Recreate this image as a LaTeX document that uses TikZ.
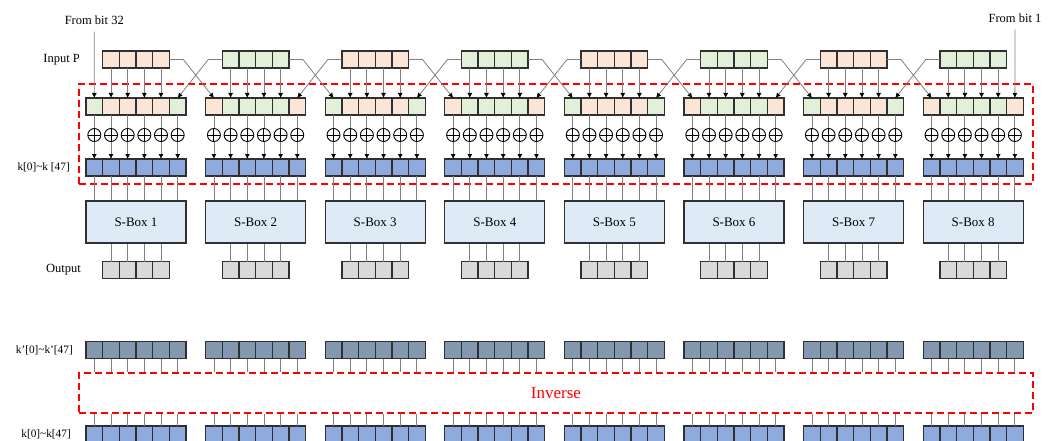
\documentclass[tikz,border=0pt]{standalone}
\usepackage{fontspec}
\setmainfont{Liberation Serif}
\usetikzlibrary{arrows.meta}
\definecolor{peach}{HTML}{FBE5D6}
\definecolor{mint}{HTML}{E2F0D9}
\definecolor{kblue}{HTML}{8FAADC}
\definecolor{kslate}{HTML}{8497B0}
\definecolor{ogray}{HTML}{D9D9D9}
\definecolor{sbfill}{HTML}{DEEBF7}
\definecolor{edgec}{HTML}{303030}
\definecolor{wirec}{HTML}{808080}
\begin{document}
\begin{tikzpicture}[x=1pt,y=-1pt,
  cell/.style={draw=edgec, line width=1.3pt, minimum width=16.667pt, minimum height=17pt, inner sep=0pt, outer sep=0pt},
  wire/.style={draw=wirec, line width=0.8pt},
  arr/.style={wire, -{Latex[length=5pt,width=5pt,color=black]}},
  xorc/.style={circle, draw=black, line width=0.9pt, minimum size=13pt, inner sep=0pt,
    path picture={\draw[black,line width=0.9pt] (path picture bounding box.north) -- (path picture bounding box.south)
      (path picture bounding box.west) -- (path picture bounding box.east);}},
  sbox/.style={draw=edgec, line width=1.3pt, fill=sbfill, minimum width=100pt, minimum height=42pt, inner sep=0pt,
    font=\fontsize{13}{15}\selectfont},
  lab/.style={anchor=east, inner sep=0pt, font=\fontsize{12.5}{14}\selectfont},
  klab/.style={anchor=east, inner sep=0pt, font=\fontsize{11.3}{13}\selectfont},
  redbox/.style={draw=red, line width=1.5pt, dash pattern=on 7pt off 4pt, inner sep=0pt}
]
\useasboundingbox (0,0) rectangle (1057,441);
\clip (0,0) rectangle (1057,441);

% dashed red frames
\node[redbox, minimum width=954pt, minimum height=100pt] (rnd) at (556,134) {};
\node[redbox, minimum width=954pt, minimum height=40pt, text=red, font=\fontsize{17}{19}\selectfont] (inv) at (556,393) {Inverse};

% labels
\node[lab] (lin) at (80,59.5) {Input P};
\node[klab] (lk) at (70,167.5) {k[0]\textasciitilde k [47]};
\node[lab] (lout) at (81,270) {Output};
\node[klab] (lkp) at (73,350) {k'[0]\textasciitilde k'[47]};
\node[klab] (lkb) at (71,434) {k[0]\textasciitilde k[47]};
\node[inner sep=0pt, font=\fontsize{12.5}{14}\selectfont] (fb32) at (94.3,20) {From bit 32};
\node[inner sep=0pt, font=\fontsize{12.5}{14}\selectfont] (fb1) at (1015,18) {From bit 1};

\foreach \i in {0,...,7}{
  \pgfmathsetmacro{\L}{86+119.6*\i}
  \pgfmathtruncatemacro{\n}{\i+1}
  \ifodd\i \def\own{mint}\def\oth{peach}\else \def\own{peach}\def\oth{mint}\fi
  % input P
  \foreach \j in {1,...,4}{
    \node[cell, fill=\own] (in-\i-\j) at ({\L+(\j+0.5)*16.667},59.5) {};
  }
  % expanded row
  \node[cell, fill=\oth] (ex-\i-0) at ({\L+0.5*16.667},106.5) {};
  \foreach \j in {1,...,4}{
    \node[cell, fill=\own] (ex-\i-\j) at ({\L+(\j+0.5)*16.667},106.5) {};
  }
  \node[cell, fill=\oth] (ex-\i-5) at ({\L+5.5*16.667},106.5) {};
  \foreach \j in {0,...,5}{
    \node[xorc] (x-\i-\j) at ({\L+(\j+0.5)*16.667},135) {};
    \node[cell, fill=kblue] (k-\i-\j) at ({\L+(\j+0.5)*16.667},167.5) {};
    \node[cell, fill=kslate] (kp-\i-\j) at ({\L+(\j+0.5)*16.667},350) {};
    \node[cell, fill=kblue] (kb-\i-\j) at ({\L+(\j+0.5)*16.667},434.5) {};
  }
  \node[sbox] (sb-\i) at ({\L+50},222) {S-Box \n};
  \foreach \j in {1,...,4}{
    \node[cell, fill=ogray] (o-\i-\j) at ({\L+(\j+0.5)*16.667},270) {};
  }
  % connectors
  \foreach \j in {1,...,4}{
    \draw[arr] (in-\i-\j.south) -- (ex-\i-\j.north);
    \draw[wire] (o-\i-\j.north |- sb-\i.south) -- (o-\i-\j.north);
  }
  \foreach \j in {0,...,5}{
    \draw[wire] (ex-\i-\j.south) -- (x-\i-\j.north);
    \draw[arr] (x-\i-\j.south) -- (k-\i-\j.north);
    \draw[wire] (k-\i-\j.south) -- (k-\i-\j.south |- sb-\i.north);
    \draw[wire] (kp-\i-\j.south) -- (kp-\i-\j.south |- inv.north);
    \draw[wire] (kb-\i-\j.north |- inv.south) -- (kb-\i-\j.north);
  }
}
% crossing wires between neighbouring groups
\foreach \i in {0,...,6}{
  \pgfmathtruncatemacro{\nx}{\i+1}
  \draw[arr] (in-\i-4.east) -- ++(14,0) -- (ex-\nx-0.north);
  \draw[arr] (in-\nx-1.west) -- ++(-14,0) -- (ex-\i-5.north);
}
\draw[arr] ([yshift=-7pt]fb32.south) -- (ex-0-0.north);
\draw[arr] ([yshift=-7pt]fb1.south) -- (ex-7-5.north);
\end{tikzpicture}
\end{document}
